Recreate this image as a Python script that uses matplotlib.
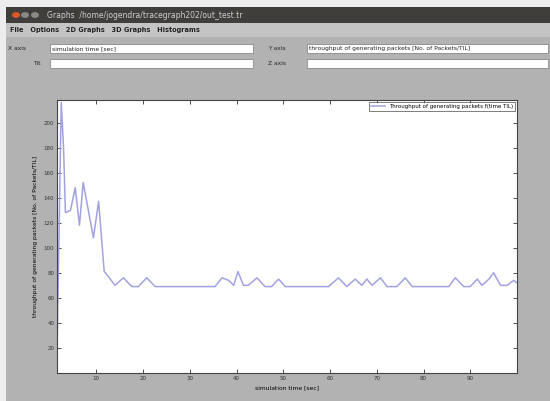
import matplotlib.pyplot as plt
from matplotlib.patches import Rectangle, Circle

# throughput trace
sim_time = [1.6, 2.5, 3.0, 3.4, 4.5, 5.5, 6.4, 7.2, 9.4, 10.5, 11.7, 12.6, 14.0,
            15.8, 17.6, 19.0, 20.8, 22.6, 35.4, 36.9, 38.3, 39.4, 40.3, 41.5,
            42.5, 44.4, 46.1, 47.5, 49.0, 50.4, 59.7, 61.8, 63.6, 65.4, 66.8,
            67.9, 69.0, 70.8, 72.2, 74.3, 76.1, 77.6, 85.4, 86.8, 88.6, 90.0,
            91.5, 92.5, 94.0, 95.0, 96.5, 97.9, 99.3, 100.0]
throughput = [14, 216, 180, 128, 130, 148, 118, 152, 108, 137, 81, 77, 70,
              76, 69, 69, 76, 69, 69, 76, 74, 70, 81, 70,
              70, 76, 69, 69, 75, 69, 69, 76, 69, 75, 70,
              75, 70, 76, 69, 69, 76, 69, 69, 76, 69, 69,
              75, 70, 75, 80, 70, 70, 74, 72]

x_ticks = [10, 20, 30, 40, 50, 60, 70, 80, 90]
y_ticks = [20, 40, 60, 80, 100, 120, 140, 160, 180, 200]

W, H = 550, 401
fig = plt.figure(figsize=(5.5, 4.01), dpi=100)
fig.patch.set_facecolor('#ededed')

def px(x, y):
    # pixel coords (top-left origin) -> figure fraction
    return x / W, 1 - y / H

def box(x0, y0, x1, y1, fc, ec='none', lw=0.6, z=-10):
    fx, fy = px(x0, y1)
    fig.patches.append(Rectangle((fx, fy), (x1 - x0) / W, (y1 - y0) / H,
                                 transform=fig.transFigure, facecolor=fc,
                                 edgecolor=ec, linewidth=lw, zorder=z))

# window body, title bar, menu bar
box(6, 7, 550, 401, '#b2b2b2', z=-20)
box(6, 7, 550, 23, '#3f3e3a')
box(6, 23, 550, 37, '#c4c4c4')
for cx, col in [(16, '#e0562a'), (25, '#8a8985'), (35, '#8a8985')]:
    fx, fy = px(cx, 15)
    fig.patches.append(Circle((fx, fy), 4 / W, transform=fig.transFigure,
                              facecolor=col, edgecolor='none', zorder=-5))
tx, ty = px(47, 15)
fig.text(tx, ty, 'Graphs  /home/jogendra/tracegraph202/out_test.tr', color='#cfcfcf',
         fontsize=5.5, va='center')
tx, ty = px(10, 30)
fig.text(tx, ty, 'File   Options   2D Graphs   3D Graphs   Histograms', color='#222222',
         fontsize=4.8, va='center', fontweight='bold')

# input fields
box(50, 44, 253, 53, 'white', '#888888')
box(50, 59, 253, 68, 'white', '#888888')
box(307, 44, 548, 53, 'white', '#888888')
box(307, 59, 548, 68, 'white', '#888888')
for x, y, s in [(8, 48.5, 'X axis'), (33, 63.5, 'Tit'), (268, 48.5, 'Y axis'), (268, 63.5, 'Z axis')]:
    tx, ty = px(x, y)
    fig.text(tx, ty, s, fontsize=4.3, va='center', color='#222222')
tx, ty = px(52, 48.5)
fig.text(tx, ty, 'simulation time [sec]', fontsize=4.3, va='center', color='#222222')
tx, ty = px(309, 48.5)
fig.text(tx, ty, 'throughput of generating packets [No. of Packets/TIL]', fontsize=4.3,
         va='center', color='#222222')

# plot
ax = fig.add_axes([57 / W, 1 - 373 / H, 460 / W, 273 / H])
ax.set_facecolor('white')
ax.plot(sim_time, throughput, color='#a2a2e2', linewidth=1.1,
        label='Throughput of generating packets f(time TIL)')
ax.set_xlim(1.6, 100)
ax.set_ylim(0, 218)
ax.set_xticks(x_ticks)
ax.set_yticks(y_ticks)
ax.tick_params(direction='in', length=3, width=0.6, labelsize=4.0, pad=2,
               top=True, right=True, colors='#333333')
for s in ax.spines.values():
    s.set_linewidth(0.8)
    s.set_color('#444444')
ax.set_xlabel('simulation time [sec]', fontsize=4.3, labelpad=3)
ax.set_ylabel('throughput of generating packets [No. of Packets/TIL]', fontsize=4.3, labelpad=4)
leg = ax.legend(loc='upper right', fontsize=4.0, frameon=True, fancybox=False,
                borderpad=0.3, handlelength=2.5, borderaxespad=0.4)
leg.get_frame().set_edgecolor('#444444')
leg.get_frame().set_linewidth(0.6)

fig.savefig('out.png', dpi=100, facecolor=fig.get_facecolor())
